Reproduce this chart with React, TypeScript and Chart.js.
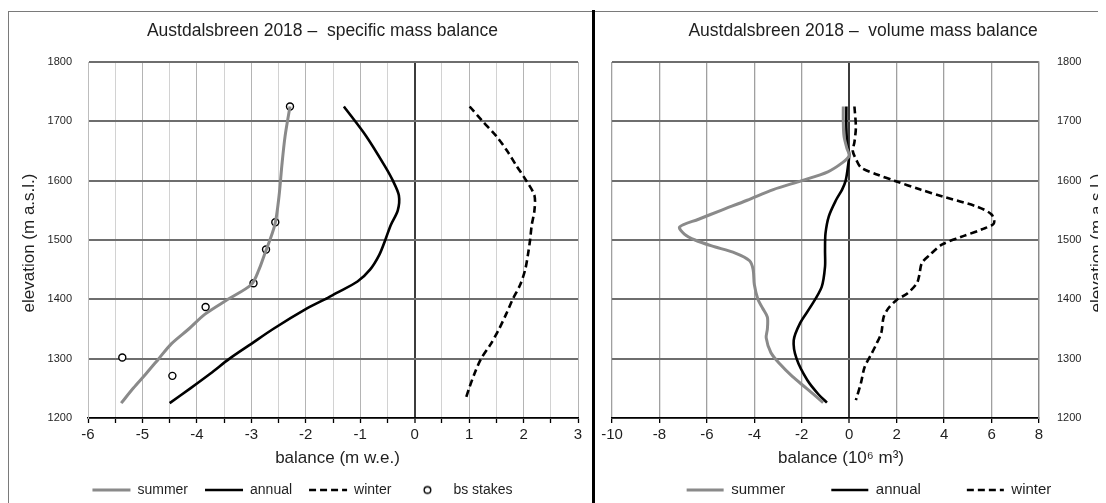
import React, { useEffect, useRef } from 'react';
import { Chart, registerables } from 'chart.js';

Chart.register(...registerables);

const FONT = '"Liberation Sans", Arial, sans-serif';

// ---------- Left chart: specific mass balance (m w.e.) ----------
const specSummerElev = [1725, 1675, 1625, 1575, 1525, 1475, 1450, 1425, 1400, 1375, 1350, 1325, 1300, 1275, 1250, 1225];
const specSummer = [-2.29, -2.38, -2.44, -2.49, -2.57, -2.76, -2.86, -3.0, -3.43, -3.85, -4.15, -4.47, -4.7, -4.93, -5.17, -5.39];

const specAnnualElev = [1725, 1675, 1625, 1600, 1575, 1550, 1525, 1500, 1475, 1450, 1430, 1410, 1400, 1385, 1350, 1325, 1300, 1275, 1250, 1225];
const specAnnual = [-1.3, -0.89, -0.55, -0.4, -0.29, -0.31, -0.44, -0.54, -0.65, -0.82, -1.05, -1.45, -1.65, -1.97, -2.6, -3.0, -3.4, -3.75, -4.12, -4.5];

const specWinterElev = [1725, 1700, 1675, 1650, 1625, 1600, 1575, 1550, 1525, 1500, 1475, 1450, 1425, 1400, 1375, 1350, 1325, 1300, 1275, 1250, 1230];
const specWinter = [1.01, 1.25, 1.5, 1.7, 1.87, 2.05, 2.2, 2.2, 2.15, 2.12, 2.08, 2.03, 1.94, 1.8, 1.68, 1.55, 1.4, 1.22, 1.1, 1.0, 0.93];

const stakeElev = [1725, 1530, 1484, 1427, 1387, 1302, 1271];
const stakeBalance = [-2.29, -2.56, -2.73, -2.96, -3.84, -5.37, -4.45];

// ---------- Right chart: volume mass balance (10^6 m^3) ----------
const volSummerElev = [1725, 1700, 1675, 1655, 1642, 1630, 1615, 1600, 1585, 1567, 1550, 1535, 1522, 1510, 1500, 1490, 1478, 1465, 1450, 1425, 1400, 1385, 1370, 1350, 1335, 1310, 1290, 1270, 1250, 1226];
const volSummer = [-0.25, -0.25, -0.22, -0.1, 0.0, -0.3, -0.9, -2.0, -3.2, -4.3, -5.4, -6.35, -7.15, -6.95, -6.5, -5.8, -4.8, -4.2, -4.05, -4.0, -3.85, -3.65, -3.45, -3.45, -3.5, -3.3, -2.9, -2.4, -1.8, -1.1];

const volAnnualElev = [1725, 1690, 1660, 1645, 1625, 1600, 1585, 1567, 1540, 1511, 1483, 1455, 1421, 1388, 1360, 1331, 1300, 1264, 1240, 1226];
const volAnnual = [-0.12, -0.12, -0.08, 0.0, -0.05, -0.15, -0.3, -0.56, -0.86, -1.0, -1.02, -1.02, -1.16, -1.62, -2.07, -2.34, -2.22, -1.77, -1.3, -0.94];

const volWinterElev = [1725, 1690, 1665, 1650, 1635, 1622, 1610, 1600, 1585, 1573, 1556, 1543, 1528, 1518, 1505, 1492, 1475, 1461, 1440, 1427, 1410, 1399, 1385, 1370, 1343, 1325, 1309, 1286, 1260, 1230];
const volWinter = [0.22, 0.28, 0.22, 0.15, 0.3, 0.5, 1.2, 1.9, 3.0, 3.96, 5.4, 6.0, 6.1, 5.6, 4.7, 3.9, 3.4, 3.06, 2.95, 2.85, 2.45, 2.0, 1.65, 1.45, 1.35, 1.15, 0.95, 0.65, 0.5, 0.28];

// ---------- Labels ----------
const leftTitle = 'Austdalsbreen 2018 –  specific mass balance';
const rightTitle = 'Austdalsbreen 2018 –  volume mass balance';
const leftXTitle = 'balance (m w.e.)';
const rightXTitle = 'balance (10⁶ m³)';
const yTitle = 'elevation (m a.s.l.)';
const seriesNames = ['summer', 'annual', 'winter', 'bs stakes'];

const pts = (xs: number[], ys: number[]) => xs.map((x, i) => ({ x, y: ys[i] }));

const textPlugin = {
  id: 'freeText',
  afterDraw(chart: any, _a: any, opts: any) {
    const ctx = chart.ctx;
    (opts.items || []).forEach((it: any) => {
      ctx.save();
      ctx.font = `${it.size}px ${FONT}`;
      ctx.fillStyle = '#1f1f1f';
      ctx.textAlign = 'center';
      ctx.textBaseline = 'middle';
      ctx.translate(it.x, it.y);
      if (it.rotate) ctx.rotate(it.rotate);
      ctx.fillText(it.text, 0, 0);
      ctx.restore();
    });
  },
};

const legendPlace = {
  id: 'legendPlace',
  afterLayout(chart: any, _a: any, opts: any) {
    const lg = chart.legend;
    if (!lg) return;
    const pad = lg.options.labels.padding;
    const fs = lg.options.labels.font.size;
    lg.left = opts.dx;
    lg.right = chart.width + opts.dx;
    lg.top = opts.cy - pad - fs / 2;
    lg.bottom = chart.height;
  },
};

function makeStakeIcon() {
  const c = document.createElement('canvas');
  c.width = 11;
  c.height = 11;
  const g = c.getContext('2d')!;
  g.beginPath();
  g.arc(5.5, 5.5, 3.3, 0, Math.PI * 2);
  g.fillStyle = '#fff';
  g.fill();
  g.lineWidth = 1.4;
  g.strokeStyle = '#000';
  g.stroke();
  return c;
}

const W_L = 583;
const W_R = 510;
const H = 491;
const PLOT_TOP = 50;
const PLOT_BOTTOM = 406;
const LEGEND_H = 30;

function legendLabels(stakeIcon: HTMLCanvasElement) {
  return (chart: any) =>
    chart.data.datasets.map((ds: any, i: number) => ({
      text: ds.label,
      fillStyle: ds.borderColor,
      strokeStyle: ds.borderColor,
      lineWidth: ds.showLine === false ? 1 : ds.borderWidth,
      lineDash: ds.borderDash || [],
      pointStyle: ds.showLine === false ? stakeIcon : 'line',
      hidden: false,
      datasetIndex: i,
      fontColor: '#1f1f1f',
    }));
}

const xAxisFit = (s: any) => {
  s.height = H - PLOT_BOTTOM - LEGEND_H;
};

export default function App() {
  const leftRef = useRef<HTMLCanvasElement>(null);
  const rightRef = useRef<HTMLCanvasElement>(null);

  useEffect(() => {
    const stakeIcon = makeStakeIcon();
    const lineDs = (label: string, data: any[], color: string, width: number, dash?: number[]) => ({
      label,
      data,
      borderColor: color,
      backgroundColor: color,
      borderWidth: width,
      borderDash: dash,
      pointRadius: 0,
      showLine: true,
      tension: 0.3,
    });

    const left = new Chart(leftRef.current!, {
      type: 'scatter',
      data: {
        datasets: [
          lineDs(seriesNames[0], pts(specSummer, specSummerElev), '#8a8a8a', 3),
          lineDs(seriesNames[1], pts(specAnnual, specAnnualElev), '#000000', 2.6),
          lineDs(seriesNames[2], pts(specWinter, specWinterElev), '#000000', 2.6, [7, 4]),
          {
            label: seriesNames[3],
            data: pts(stakeBalance, stakeElev),
            showLine: false,
            pointStyle: 'circle',
            pointRadius: 3.5,
            pointBorderWidth: 1.4,
            borderColor: '#000000',
            backgroundColor: '#ffffff',
            pointBackgroundColor: '#ffffff',
            pointBorderColor: '#000000',
          } as any,
        ],
      },
      options: {
        responsive: false,
        animation: false,
        devicePixelRatio: 1,
        layout: { padding: { left: 0, right: W_L - 569, top: PLOT_TOP, bottom: 0 } },
        scales: {
          x: {
            type: 'linear',
            min: -6,
            max: 3,
            afterFit: xAxisFit,
            ticks: {
              stepSize: 0.5,
              autoSkip: false,
              maxRotation: 0,
              padding: 3,
              color: '#1f1f1f',
              font: { family: FONT, size: 15 },
              callback: (v: any) => (Number.isInteger(v) ? String(v) : ''),
            },
            grid: {
              color: (c: any) => (c.tick && c.tick.value === 0 ? '#3c3c3c' : Number.isInteger(c.tick?.value) ? '#b4b4b4' : '#d2d2d2'),
              lineWidth: (c: any) => (c.tick && c.tick.value === 0 ? 2 : 1),
              tickColor: '#000',
              tickLength: 5,
              tickWidth: 1.3,
            },
            border: { color: '#000', width: 1.6 },
          },
          y: {
            type: 'linear',
            min: 1200,
            max: 1800,
            afterFit: (s: any) => {
              s.width = 79;
            },
            ticks: {
              stepSize: 100,
              padding: 16,
              color: '#1f1f1f',
              font: { family: FONT, size: 11 },
              callback: (v: any) => String(v),
            },
            grid: { color: '#6e6e6e', lineWidth: 2, drawTicks: false },
            border: { color: '#bdbdbd', width: 1 },
          },
        },
        plugins: {
          title: { display: false },
          tooltip: { enabled: false },
          legend: {
            display: true,
            position: 'bottom',
            maxHeight: LEGEND_H,
            labels: {
              usePointStyle: true,
              pointStyleWidth: 38,
              padding: 17,
              color: '#1f1f1f',
              font: { family: FONT, size: 14 },
              generateLabels: legendLabels(stakeIcon),
            },
          },
          legendPlace: { dx: 2, cy: 478 },
          freeText: {
            items: [
              { text: leftTitle, x: 313.5, y: 19, size: 17.5 },
              { text: leftXTitle, x: 328.5, y: 446, size: 17 },
              { text: yTitle, x: 20, y: 231, size: 17, rotate: -Math.PI / 2 },
            ],
          },
        } as any,
      },
      plugins: [textPlugin, legendPlace],
    });

    const right = new Chart(rightRef.current!, {
      type: 'scatter',
      data: {
        datasets: [
          lineDs(seriesNames[0], pts(volSummer, volSummerElev), '#8a8a8a', 3),
          lineDs(seriesNames[1], pts(volAnnual, volAnnualElev), '#000000', 2.6),
          lineDs(seriesNames[2], pts(volWinter, volWinterElev), '#000000', 2.6, [7, 4]),
        ],
      },
      options: {
        responsive: false,
        animation: false,
        devicePixelRatio: 1,
        layout: { padding: { left: 16, right: 0, top: PLOT_TOP, bottom: 0 } },
        scales: {
          x: {
            type: 'linear',
            min: -10,
            max: 8,
            afterFit: xAxisFit,
            ticks: {
              stepSize: 2,
              autoSkip: false,
              maxRotation: 0,
              padding: 3,
              color: '#1f1f1f',
              font: { family: FONT, size: 15 },
              callback: (v: any) => String(v),
            },
            grid: {
              color: (c: any) => (c.tick && c.tick.value === 0 ? '#3c3c3c' : '#a0a0a0'),
              lineWidth: (c: any) => (c.tick && c.tick.value === 0 ? 2 : 1.3),
              tickColor: '#000',
              tickLength: 5,
              tickWidth: 1.3,
            },
            border: { color: '#000', width: 1.6 },
          },
          y: {
            type: 'linear',
            position: 'right',
            min: 1200,
            max: 1800,
            afterFit: (s: any) => {
              s.width = W_R - 443;
            },
            ticks: {
              stepSize: 100,
              padding: 18,
              color: '#1f1f1f',
              font: { family: FONT, size: 11 },
              callback: (v: any) => String(v),
            },
            grid: { color: '#6e6e6e', lineWidth: 2, drawTicks: false },
            border: { color: '#8a8a8a', width: 1.3 },
          },
        },
        plugins: {
          title: { display: false },
          tooltip: { enabled: false },
          legend: {
            display: true,
            position: 'bottom',
            maxHeight: LEGEND_H,
            labels: {
              usePointStyle: true,
              pointStyleWidth: 37,
              padding: 46,
              color: '#1f1f1f',
              font: { family: FONT, size: 15 },
              generateLabels: legendLabels(stakeIcon),
            },
          },
          legendPlace: { dx: 18, cy: 478 },
          freeText: {
            items: [
              { text: rightTitle, x: 267, y: 19, size: 17.5 },
              { text: rightXTitle, x: 245, y: 446, size: 17 },
              { text: yTitle, x: 501, y: 231, size: 17, rotate: -Math.PI / 2 },
            ],
          },
        } as any,
      },
      plugins: [textPlugin, legendPlace],
    });

    return () => {
      left.destroy();
      right.destroy();
    };
  }, []);

  return (
    <div style={{ position: 'relative', width: 1098, height: 495, overflow: 'hidden', background: '#fff' }}>
      <div
        style={{
          position: 'absolute',
          left: 0,
          top: 3,
          width: 584,
          height: 520,
          boxSizing: 'border-box',
          borderLeft: '1px solid #7a7a7a',
          borderTop: '1px solid #7a7a7a',
        }}
      />
      <div style={{ position: 'absolute', left: 584, top: 2, width: 3, height: 520, background: '#000' }} />
      <div style={{ position: 'absolute', left: 587, top: 3, width: 520, height: 1, background: '#7a7a7a' }} />
      <canvas
        ref={leftRef}
        width={W_L}
        height={H}
        style={{ position: 'absolute', left: 1, top: 4, width: W_L, height: H, display: 'block' }}
      />
      <canvas
        ref={rightRef}
        width={W_R}
        height={H}
        style={{ position: 'absolute', left: 588, top: 4, width: W_R, height: H, display: 'block' }}
      />
    </div>
  );
}
